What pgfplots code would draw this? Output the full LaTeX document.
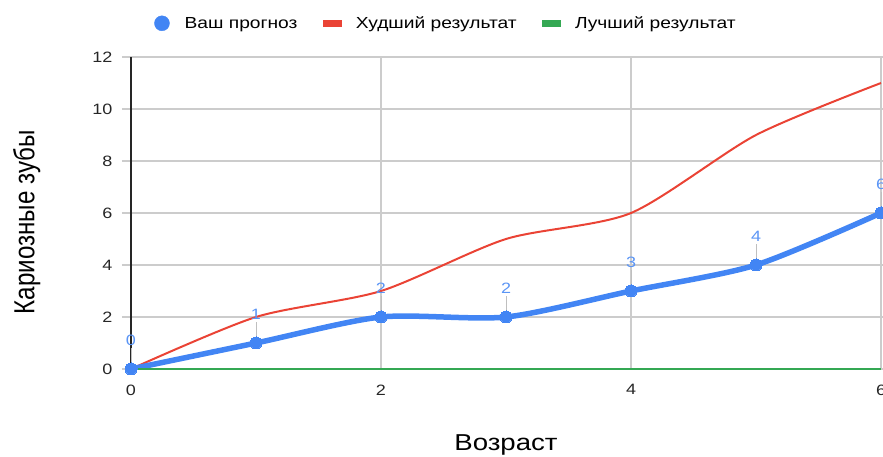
\documentclass[border=0pt]{standalone}
\usepackage{pgfplots}
\pgfplotsset{compat=1.18}
\usepackage{fontspec}
\setmainfont{Liberation Sans}[FakeStretch=1.2]
\newfontfamily\ylabfont{Liberation Sans}[FakeStretch=0.833]
\definecolor{gblue}{HTML}{4285F4}
\definecolor{glabel}{HTML}{5B95F5}
\definecolor{gred}{HTML}{EA4335}
\definecolor{ggreen}{HTML}{34A853}
\definecolor{ggrid}{HTML}{CCCCCC}
\begin{document}
\begin{tikzpicture}[x=1pt,y=1pt]
\useasboundingbox (0,0) rectangle (883,457);
\begin{axis}[
  at={(131pt,88pt)}, anchor=south west,
  scale only axis, width=750pt, height=312pt,
  xmin=0, xmax=6, ymin=0, ymax=12,
  xtick={0,2,4,6}, ytick={0,2,...,12},
  grid=major, grid style={ggrid, line width=1.2pt},
  axis line style={draw=none},
  ytick style={ggrid, line width=1.2pt},
  xtick style={draw=none},
  tick align=outside, major tick length=9pt,
  ticklabel style={font=\fontsize{15}{17}\selectfont, text=black!85},
  /pgf/number format/assume math mode=true,
  yticklabel style={xshift=-6pt},
  xticklabel style={yshift=-3pt},
  xlabel={Возраст}, ylabel={Кариозные зубы},
  xlabel style={font=\fontsize{23}{26}\selectfont, text=black, at={(axis description cs:0.5,-0.244)}, anchor=center},
  ylabel style={font=\ylabfont\fontsize{29}{32}\selectfont, text=black, at={(axis description cs:-0.139,0.47)}, anchor=center},
  clip=false,
  legend columns=3,
  legend style={draw=none, fill=none, at={(0.420,1.108)}, anchor=center,
    font=\fontsize{16}{18}\selectfont,
    /tikz/every odd column/.append style={column sep=13pt},
    /tikz/every even column/.append style={column sep=23pt}},
]
\addlegendimage{legend image code/.code={\fill[gblue] (0pt,0pt) circle (7.5pt);}}
\addlegendentry{Ваш прогноз}
\addlegendimage{legend image code/.code={\fill[gred] (-9pt,-3pt) rectangle (9pt,3pt);}}
\addlegendentry{Худший результат}
\addlegendimage{legend image code/.code={\fill[ggreen] (-9pt,-3pt) rectangle (9pt,3pt);}}
\addlegendentry{Лучший результат}

\draw[black!85, line width=1.6pt] (axis cs:0,0) -- (axis cs:0,12);

\addplot[forget plot, draw=none, error bars/.cd, y dir=plus, y fixed=0.8, error mark=none,
  error bar style={black!25, line width=0.8pt}]
  coordinates {(0,0)(1,1)(2,2)(3,2)(4,3)(5,4)(6,6)};
\addplot[forget plot, gred, line width=2pt, smooth, tension=0.45] coordinates {(0,0)(1,2)(2,3)(3,5)(4,6)(5,9)(6,11)};
\addplot[forget plot, gblue, line width=5.5pt, smooth, tension=0.45, mark=*, mark size=6pt,
  mark options={line width=0pt, fill=gblue},
  nodes near coords,
  nodes near coords style={anchor=center, yshift=29pt, font=\fontsize{15}{18}\selectfont, text=glabel}]
  coordinates {(0,0)(1,1)(2,2)(3,2)(4,3)(5,4)(6,6)};
\fill[white] ([xshift=-8pt,yshift=-1pt]axis cs:0,0) rectangle ([xshift=9pt,yshift=-9pt]axis cs:0,0);
\addplot[forget plot, ggreen, line width=2pt] coordinates {(0,0)(1,0)(2,0)(3,0)(4,0)(5,0)(6,0)};
\end{axis}
\end{tikzpicture}
\end{document}
